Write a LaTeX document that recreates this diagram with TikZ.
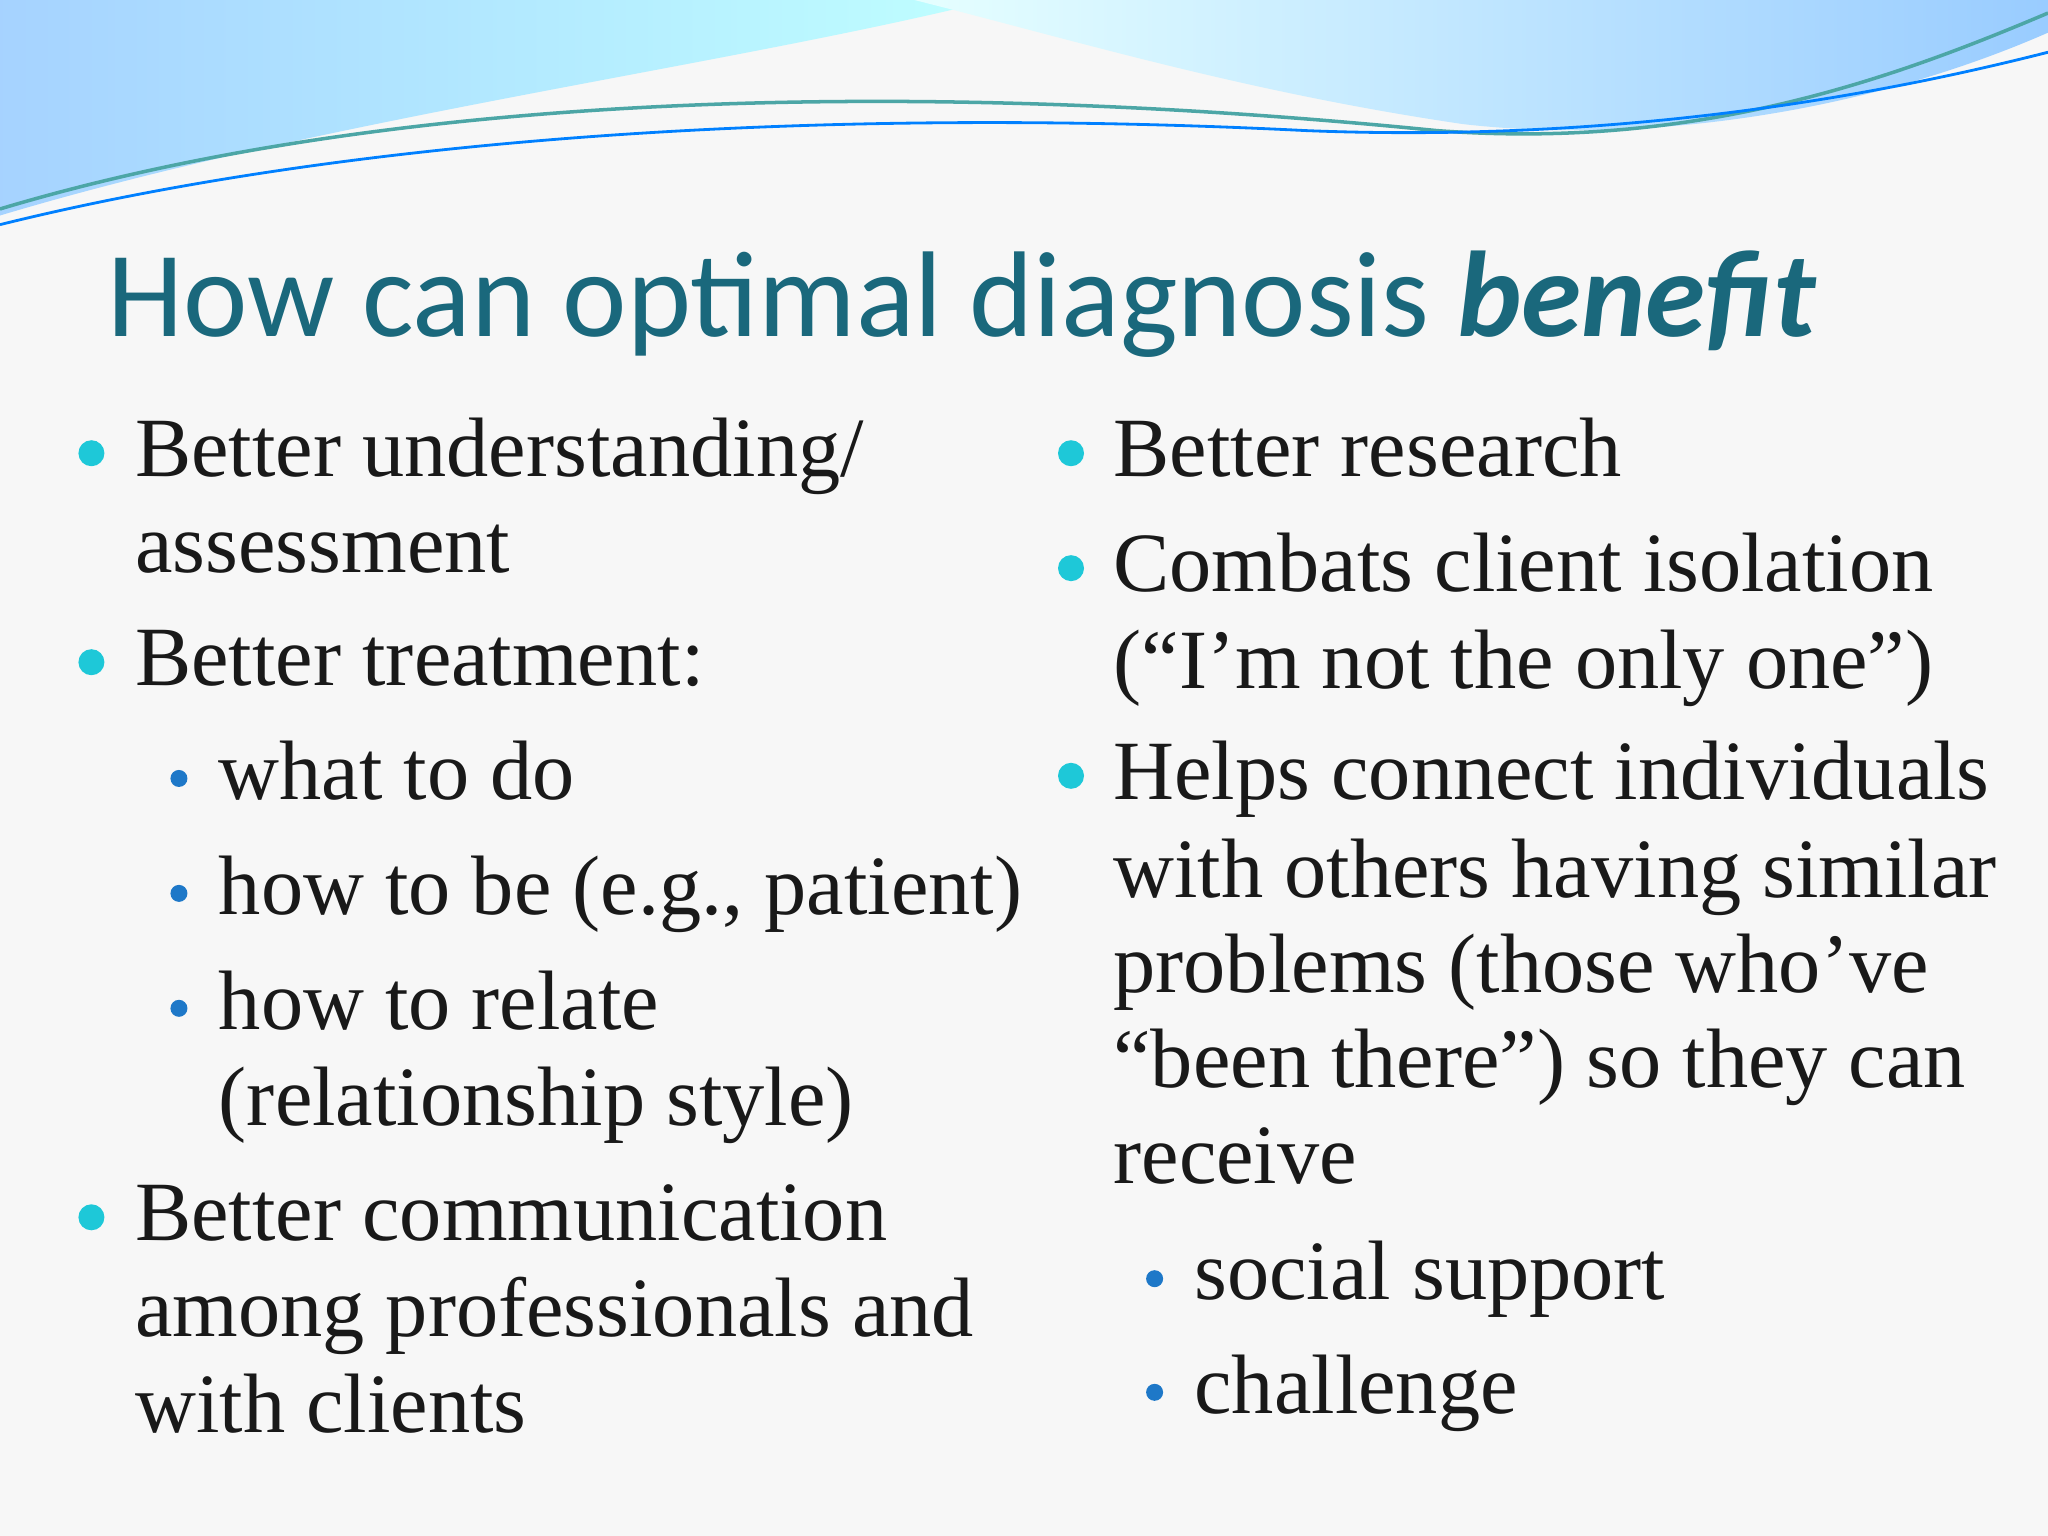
\documentclass[tikz,border=0pt]{standalone}
\usepackage{fontspec}
\setmainfont{Liberation Serif}
\newfontfamily\titlefont{Carlito}
\definecolor{bulc}{RGB}{30,200,216}
\definecolor{sbulc}{RGB}{30,120,200}
\begin{document}
\begin{tikzpicture}[x=0.01306cm,y=-0.01306cm,
  body/.style={anchor=base west,inner sep=0pt,font=\fontsize{24}{28}\selectfont,text=black!90},
  bul/.style={circle,fill=bulc,inner sep=0pt,minimum size=0.26cm},
  sbul/.style={circle,fill=sbulc,inner sep=0pt,minimum size=0.17cm}]
\useasboundingbox (0,0) rectangle (1568,1176);
\fill[gray!6] (0,0) rectangle (1568,1176);
\shade[left color=cyan!50!blue!35,right color=cyan!25!white] (0,0) -- (760,0) .. controls (560,50) and (250,90) .. (0,165) -- cycle;
\shade[left color=cyan!10!white,right color=cyan!50!blue!40] (700,0) -- (1568,0) -- (1568,25) .. controls (1420,90) and (1250,110) .. (1120,95) .. controls (950,70) and (820,30) .. (700,0) -- cycle;
\draw[teal!70,line width=1pt] (0,160) .. controls (300,70) and (700,60) .. (1100,100) .. controls (1300,115) and (1450,60) .. (1568,10);
\draw[blue!50!cyan,line width=0.8pt] (0,172) .. controls (250,110) and (600,80) .. (1000,100) .. controls (1250,110) and (1450,70) .. (1568,40);
\node[anchor=base west,inner sep=0pt,font=\titlefont\fontsize{34.7}{40}\selectfont,text={rgb,255:red,26;green,104;blue,124}] (title) at (82,258) {How can optimal diagnosis \textbf{\textit{benefit}}};
% left column
\node[bul] (b1) at (70,347) {};
\node[body] (l1) at (103,365) {Better understanding/};
\node[body] (l2) at (103,438) {assessment};
\node[bul] (b2) at (70,507) {};
\node[body] (l3) at (103,525) {Better treatment:};
\node[sbul] (s1) at (137,596) {};
\node[body] (l4) at (167,612) {what to do};
\node[sbul] (s2) at (137,684) {};
\node[body] (l5) at (167,700) {how to be (e.g., patient)};
\node[sbul] (s3) at (137,772) {};
\node[body] (l6) at (167,788) {how to relate};
\node[body] (l7) at (167,862) {(relationship style)};
\node[bul] (b3) at (70,932) {};
\node[body] (l8) at (103,950) {Better communication};
\node[body] (l9) at (103,1023) {among professionals and};
\node[body] (l10) at (103,1097) {with clients};
% right column
\node[bul] (b4) at (820,347) {};
\node[body] (r1) at (852,365) {Better research};
\node[bul] (b5) at (820,435) {};
\node[body] (r2) at (852,453) {Combats client isolation};
\node[body] (r3) at (852,527) {(“I’m not the only one”)};
\node[bul] (b6) at (820,594) {};
\node[body] (r4) at (852,612) {Helps connect individuals};
\node[body] (r5) at (852,687) {with others having similar};
\node[body] (r6) at (852,760) {problems (those who’ve};
\node[body] (r7) at (852,833) {“been there”) so they can};
\node[body] (r8) at (852,906) {receive};
\node[sbul] (s4) at (884,979) {};
\node[body] (r9) at (914,995) {social support};
\node[sbul] (s5) at (884,1066) {};
\node[body] (r10) at (914,1082) {challenge};
\end{tikzpicture}
\end{document}
